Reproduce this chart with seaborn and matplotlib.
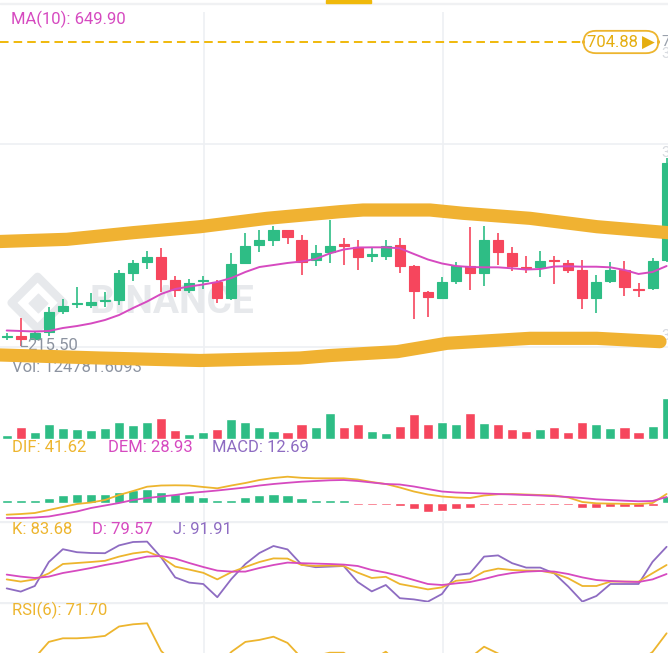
import numpy as np
import pandas as pd
import matplotlib
matplotlib.use("Agg")
import matplotlib.pyplot as plt
from matplotlib.patches import Rectangle
import seaborn as sns

# candles (price)
open_ = [230.7, 232.0, 226.7, 238.5, 272.3, 282.3, 281.4, 287.4, 289.5, 332.5, 351.2, 359.2,
         321.7, 305.6, 320.6, 319.0, 292.2, 348.6, 378.0, 386.1, 402.2, 386.1, 353.9, 367.3,
         378.9, 374.3, 361.1, 360.3, 378.0, 344.2, 302.9, 292.2, 320.6, 344.2, 333.5, 386.1,
         365.7, 343.0, 343.1, 353.4, 349.6, 337.8, 292.2, 320.6, 337.8, 308.0, 309.3, 353.9]
high = [236.4, 260.5, 240.1, 278.7, 291.1, 310.4, 301.3, 302.9, 337.8, 353.9, 368.9, 372.7,
        328.1, 322.8, 328.1, 321.7, 365.7, 397.9, 402.2, 408.6, 403.0, 394.1, 378.0, 418.3,
        388.8, 386.1, 372.7, 386.1, 389.8, 345.8, 304.0, 327.0, 351.2, 406.5, 408.6, 397.9,
        374.3, 360.3, 368.4, 360.3, 353.9, 353.9, 329.7, 351.2, 352.8, 316.4, 357.1, 518.1]
low = [225.1, 215.5, 225.1, 231.5, 267.0, 276.6, 276.1, 278.2, 281.4, 320.6, 338.9, 302.9,
       293.8, 301.3, 306.7, 284.2, 289.5, 347.5, 367.3, 376.4, 379.7, 329.7, 344.2, 348.6,
       345.8, 337.8, 351.2, 353.9, 332.5, 258.4, 261.6, 292.2, 315.3, 305.6, 312.0, 345.8,
       336.7, 333.5, 326.0, 315.3, 333.5, 274.5, 269.1, 316.4, 295.9, 294.8, 305.6, 350.7]
close = [232.3, 226.7, 236.9, 270.7, 280.3, 284.2, 286.3, 289.0, 333.0, 349.6, 359.2, 322.8,
         305.6, 317.4, 322.2, 292.2, 347.5, 376.4, 386.1, 402.2, 391.4, 351.2, 364.7, 376.4,
         377.2, 359.2, 362.8, 376.4, 344.2, 304.0, 293.8, 319.0, 344.2, 333.5, 386.1, 367.3,
         344.2, 341.3, 352.3, 351.8, 337.8, 292.2, 319.0, 337.8, 310.9, 306.4, 352.3, 510.1]
ma10 = [240.4, 239.6, 238.8, 239.6, 244.4, 247.6, 251.7, 257.3, 265.3, 276.6, 287.1, 299.2,
        307.2, 311.2, 314.5, 318.5, 324.9, 334.6, 342.6, 345.8, 349.1, 351.5, 355.5, 364.4,
        370.8, 374.0, 374.3, 374.3, 372.7, 363.6, 354.7, 348.3, 344.2, 342.6, 342.1, 342.1,
        340.5, 338.6, 339.4, 343.4, 343.8, 343.1, 343.1, 342.1, 337.8, 331.4, 334.6, 344.2]

# volume (thousands)
volume = [12.1, 35.3, 20.2, 44.4, 34.1, 30.2, 27.2, 32.3, 50.4, 42.3, 50.4, 62.5,
          27.2, 14.2, 22.0, 30.2, 59.5, 50.4, 37.1, 24.2, 20.2, 44.4, 37.1, 77.6,
          37.1, 46.2, 24.2, 19.0, 40.2, 74.6, 44.4, 51.3, 44.4, 79.4, 47.4, 44.4,
          29.3, 24.2, 31.1, 35.3, 20.2, 50.4, 44.4, 32.3, 37.1, 20.2, 40.2, 124.8]

# MACD
dif = [-24.4, -23, -21, -15, -9, -3, 0, 5, 15, 23, 31.6, 34, 34.4, 34, 31, 28.4, 34, 39,
       45, 49, 51.6, 49.4, 48.4, 48.4, 48.4, 46, 41, 37, 30, 22, 16, 12, 10, 9, 14, 16.4,
       17, 16, 15, 14, 10, 1, -1.6, -2.2, -2.6, -3, -1, 17]
dem = [-31, -31, -30, -28, -23, -18, -11, -6, -1, 5, 9, 12, 15, 19, 21.4, 24, 27, 30,
       34, 37, 39.4, 41.6, 43, 44.4, 45, 43, 40, 37, 36, 32, 27, 22, 20, 19, 18, 17,
       16, 15, 14, 12.6, 11, 9, 6.4, 5, 3.6, 2.4, 3, 11]
macd = [5, 5, 5, 10, 14.6, 16.6, 18, 18, 22, 25, 26.6, 22, 16.6, 14.6, 11, 5, 5, 11,
        15, 17, 15, 10, 5, 5, 5, -4, -4, -4, -6, -12.6, -18, -16.6, -12.6, -11.4, -4, -4,
        -4, -4, -4, -4, -4, -10, -10, -8, -8, -8, -6, 13]

# KDJ
k_line = [76.5, 75.4, 76.5, 79.5, 84.2, 84.7, 85.2, 85.8, 87.9, 89.5, 90.4, 87.7, 82.9, 81.4,
          79.8, 76.5, 80.1, 82.7, 85.2, 87.0, 86.9, 83.7, 83.2, 83.4, 83.2, 79.9, 77.2, 77.8,
          74.2, 72.9, 71.5, 72.5, 75.8, 76.5, 80.4, 81.9, 81.2, 80.9, 80.8, 79.6, 77.0, 73.2,
          73.2, 75.4, 75.4, 75.4, 79.6, 83.7]
d_line = [78.9, 77.9, 77.2, 77.9, 79.7, 80.9, 82.2, 83.7, 84.9, 86.4, 87.9, 88.2, 86.9, 84.7,
          82.7, 80.9, 80.4, 80.4, 82.2, 83.7, 84.9, 84.6, 84.4, 84.2, 83.9, 83.2, 81.2, 79.9,
          78.2, 76.2, 74.2, 73.7, 74.5, 75.2, 76.7, 78.5, 79.7, 80.4, 80.7, 80.4, 79.2, 77.5,
          76.2, 75.7, 75.4, 75.2, 76.5, 79.2]
j_line = [72.0, 70.4, 73.2, 85.2, 91.6, 90.1, 89.7, 89.6, 93.5, 95.2, 95.4, 87.5, 77.5, 74.9,
          74.2, 67.6, 76.7, 84.2, 89.7, 93.2, 91.5, 83.9, 82.6, 82.9, 83.2, 75.2, 70.5, 73.7,
          67.1, 66.5, 65.4, 69.2, 78.7, 79.5, 87.9, 88.5, 84.6, 82.4, 82.4, 79.5, 72.9, 65.4,
          68.2, 74.2, 74.2, 74.2, 85.3, 92.8]

# RSI(6)
rsi6 = [53.4, 55.9, 59.4, 67.4, 69.2, 69.2, 69.6, 70.4, 75.1, 76.2, 76.7, 62.9, 55.9, 54.4,
        53.4, 54.4, 62.4, 67.4, 68.4, 70.0, 66.9, 59.4, 60.4, 62.0, 62.0, 57.4, 58.4, 62.5,
        55.9, 50.9, 50.9, 53.4, 57.4, 59.4, 65.0, 61.6, 58.4, 57.4, 57.4, 56.9, 54.4, 50.9,
        53.4, 55.9, 55.9, 57.4, 62.4, 71.7]

# hand drawn highlight bands (candle index, price)
upper_band_x = [-0.48, 4.29, 9.0, 13.77, 18.54, 23.74, 25.38, 30.15, 32.5, 37.27, 42.04, 47.1]
upper_band_y = [383.7, 387.2, 397.9, 407.5, 421.0, 431.7, 434.4, 434.4, 429.1, 421.0, 407.5, 397.9]
lower_band_x = [-0.48, 6.65, 13.77, 20.89, 23.03, 27.8, 31.36, 37.27, 42.04, 46.53]
lower_band_y = [201.0, 196.1, 192.1, 196.1, 200.1, 206.3, 219.8, 227.8, 227.8, 222.4]

last_price = 704.88
low_price = 215.50

GREEN = "#2EBD85"
RED = "#F6465D"
PINK = "#D64AC0"
YELLOW = "#EDB52E"
PURPLE = "#8E6CC2"
BAND = "#F0B232"
GRID = "#EEF0F3"
GRAY = "#8C93A0"
MARK = "#E7E9EC"

sns.set_style("white")
plt.rcParams["font.family"] = ["Roboto", "DejaVu Sans"]

W, H = 668, 653
fig = plt.figure(figsize=(W / 100, H / 100), dpi=100)


def panel(top, bottom):
    ax = fig.add_axes([0, 1 - bottom / H, 1, (bottom - top) / H])
    ax.set_xlim(-0.477, 47.1)
    ax.patch.set_alpha(0)
    ax.set_axis_off()
    return ax


df = pd.DataFrame({"i": np.arange(len(close)), "open": open_, "high": high, "low": low,
                   "close": close, "ma": ma10, "vol": volume, "dif": dif, "dem": dem,
                   "macd": macd, "k": k_line, "d": d_line, "j": j_line, "rsi": rsi6})
up = df["close"] >= df["open"]
col = np.where(up, GREEN, RED)

# background grid
bg = panel(12, 653)
bg.set_ylim(0, 1)
for gx in [14.05, 31.08]:
    bg.axvline(gx, color=GRID, lw=1.2, zorder=0)

# main price panel
ax = panel(10, 395)
ax.set_ylim(136.55, 756.4)
for gy in [540.7, 213.8]:
    ax.axhline(gy, color=GRID, lw=1.2, zorder=0)

# watermark
ax.text(11.8, 285, "BINANCE", fontsize=28, fontweight="bold", color=MARK,
        ha="center", va="center", zorder=1)
ax.scatter([2.2], [285], marker="D", s=700, facecolor="none", edgecolor=MARK,
           linewidth=6, zorder=1)
ax.scatter([2.2], [285], marker="D", s=90, color=MARK, zorder=1)

ax.vlines(df["i"], df["low"], df["high"], colors=col, lw=1.2, zorder=3)
body_lo = np.minimum(df["open"], df["close"])
body_h = np.abs(df["close"] - df["open"])
ax.bar(df["i"], body_h, bottom=body_lo, width=0.72, color=col, edgecolor=col, lw=0.8, zorder=3)
sns.lineplot(data=df, x="i", y="ma", ax=ax, color=PINK, lw=1.4, zorder=4, legend=False)

ax.plot(upper_band_x, upper_band_y, color=BAND, lw=9.5, solid_capstyle="round",
        solid_joinstyle="round", zorder=6, clip_on=False)
ax.plot(lower_band_x, lower_band_y, color=BAND, lw=9.5, solid_capstyle="round",
        solid_joinstyle="round", zorder=6, clip_on=False)

ax.axhline(last_price, xmax=0.875, color="#F0B90B", lw=1.4, ls=(0, (4.4, 2.6)), zorder=2)
ax.text(43.75, last_price, "704.88 \u25B6", fontsize=12, color="#E5AE10", ha="center",
        va="center", family=["Roboto", "DejaVu Sans"], zorder=7,
        bbox=dict(boxstyle="round,pad=0.22,rounding_size=0.75", fc="white", ec="#EDB52E", lw=1.3))

ax.plot([1, 1, 1.42], [223, low_price, low_price], color=GRAY, lw=0.9, zorder=4)
ax.text(1.45, low_price, "215.50", fontsize=12, color=GRAY, ha="left", va="center", zorder=5)

ax.text(11 / W, 1 - 19 / H, "MA(10): 649.90", transform=fig.transFigure, fontsize=12,
        color=PINK, va="center", zorder=5)
ax.text(12 / W, 1 - 367 / H, "Vol: 124781.6093", transform=fig.transFigure, fontsize=12,
        color=GRAY, va="center", zorder=5)
# right-hand price scale labels, cut off by the screen edge
for txt, yy, c in [("7", 42, "#9AA1AC"), ("3", 54, "#D8DBE0"), ("3", 153, "#D8DBE0"),
                   ("2", 257, "#D8DBE0"), ("3", 336, "#D8DBE0")]:
    ax.text(661 / W, 1 - yy / H, txt, transform=fig.transFigure, fontsize=11, color=c,
            va="center", zorder=2)

# volume panel
axv = panel(375, 439)
axv.set_ylim(0, 193.3)
axv.bar(df["i"], df["vol"], width=0.72, color=col, zorder=3)

# MACD panel
axm = panel(460, 520)
axm.set_ylim(-35, 85)
mcol = np.where(df["macd"] >= 0, GREEN, RED)
axm.bar(df["i"], df["macd"], width=0.72, color=mcol, zorder=2)
sns.lineplot(data=df, x="i", y="dif", ax=axm, color=YELLOW, lw=1.3, zorder=3, legend=False)
sns.lineplot(data=df, x="i", y="dem", ax=axm, color=PINK, lw=1.3, zorder=3, legend=False)
for txt, x0, c in [("DIF: 41.62", 12, YELLOW), ("DEM: 28.93", 108, PINK), ("MACD: 12.69", 212, PURPLE)]:
    axm.text(x0 / W, 1 - 448 / H, txt, transform=fig.transFigure, fontsize=12, color=c, va="center")

# KDJ panel
axk = panel(521, 602)
axk.set_ylim(65.2, 105.7)
axk.axhline(105.7, color=GRID, lw=2.4, zorder=0)
sns.lineplot(data=df, x="i", y="j", ax=axk, color=PURPLE, lw=1.3, zorder=3, legend=False)
sns.lineplot(data=df, x="i", y="k", ax=axk, color=YELLOW, lw=1.3, zorder=3, legend=False)
sns.lineplot(data=df, x="i", y="d", ax=axk, color=PINK, lw=1.3, zorder=3, legend=False)
for txt, x0, c in [("K: 83.68", 12, YELLOW), ("D: 79.57", 92, PINK), ("J: 91.91", 173, PURPLE)]:
    axk.text(x0 / W, 1 - 530 / H, txt, transform=fig.transFigure, fontsize=12, color=c, va="center")

# RSI panel
axr = panel(602, 653)
axr.set_ylim(61.85, 87.35)
axr.axhline(87.35, color=GRID, lw=2.4, zorder=0)
sns.lineplot(data=df, x="i", y="rsi", ax=axr, color=YELLOW, lw=1.3, zorder=3, legend=False)
axr.text(12 / W, 1 - 610 / H, "RSI(6): 71.70", transform=fig.transFigure, fontsize=12,
         color=YELLOW, va="center")

# top tab strip
fig.add_artist(Rectangle((0, 1 - 4 / H), 1, 1.2 / H, transform=fig.transFigure, color="#F0F1F3"))
fig.add_artist(Rectangle((326 / W, 1 - 3 / H), 45 / W, 3 / H, transform=fig.transFigure, color="#F0B90B"))

fig.savefig("out.png", dpi=100, facecolor="white")
